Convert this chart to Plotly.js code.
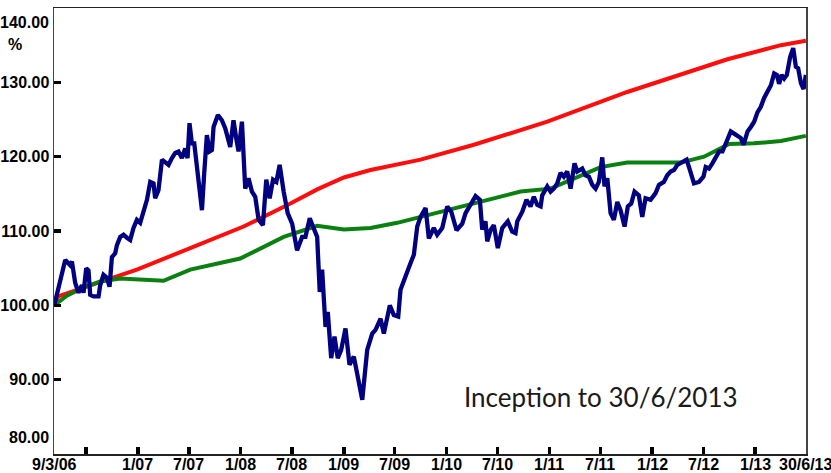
<!DOCTYPE html>
<html>
<head>
<meta charset="utf-8">
<script src="https://cdn.plot.ly/plotly-3.0.1.min.js"></script>
<style>html,body{margin:0;padding:0;background:#fff;}#chart{width:831px;height:473px;}</style>
</head>
<body>
<div id="chart"></div>
<script>
// Fund performance (decimal years)
const fundYears = [2006.186,2006.293,2006.341,2006.358,2006.390,2006.422,2006.455,2006.471,2006.497,2006.519,2006.536,2006.568,2006.617,2006.633,2006.665,2006.698,2006.724,2006.747,2006.779,2006.796,2006.828,2006.860,2006.893,2006.925,2006.957,2006.990,2007.022,2007.054,2007.088,2007.120,2007.152,2007.168,2007.200,2007.234,2007.266,2007.298,2007.331,2007.363,2007.395,2007.428,2007.460,2007.483,2007.502,2007.525,2007.548,2007.580,2007.623,2007.645,2007.671,2007.697,2007.720,2007.736,2007.778,2007.817,2007.850,2007.898,2007.930,2007.954,2007.979,2008.012,2008.044,2008.076,2008.109,2008.141,2008.174,2008.216,2008.248,2008.281,2008.314,2008.346,2008.378,2008.417,2008.456,2008.499,2008.547,2008.596,2008.628,2008.670,2008.709,2008.742,2008.767,2008.790,2008.823,2008.845,2008.878,2008.910,2008.942,2008.975,2009.017,2009.056,2009.098,2009.137,2009.180,2009.228,2009.277,2009.309,2009.358,2009.390,2009.448,2009.487,2009.530,2009.552,2009.584,2009.623,2009.650,2009.682,2009.715,2009.747,2009.796,2009.828,2009.876,2009.909,2009.958,2010.007,2010.046,2010.097,2010.153,2010.185,2010.234,2010.282,2010.324,2010.347,2010.379,2010.396,2010.428,2010.460,2010.499,2010.542,2010.596,2010.639,2010.671,2010.688,2010.737,2010.778,2010.817,2010.849,2010.883,2010.915,2010.931,2010.980,2011.012,2011.044,2011.077,2011.109,2011.141,2011.174,2011.207,2011.245,2011.272,2011.320,2011.352,2011.385,2011.418,2011.450,2011.482,2011.515,2011.537,2011.564,2011.596,2011.628,2011.661,2011.693,2011.732,2011.764,2011.797,2011.829,2011.871,2011.904,2011.936,2011.985,2012.034,2012.066,2012.114,2012.147,2012.180,2012.212,2012.245,2012.293,2012.335,2012.367,2012.406,2012.455,2012.498,2012.520,2012.552,2012.585,2012.617,2012.650,2012.683,2012.724,2012.763,2012.796,2012.829,2012.861,2012.887,2012.926,2012.958,2012.990,2013.023,2013.055,2013.087,2013.121,2013.153,2013.185,2013.211,2013.233,2013.257,2013.282,2013.308,2013.340,2013.370,2013.396,2013.418,2013.445,2013.471,2013.493];
const fundValues = [100.0,106.1,105.4,105.9,103.0,101.7,102.7,101.7,105.0,104.7,101.4,101.2,101.2,102.7,104.1,103.7,102.5,106.5,107.0,108.1,109.2,109.5,109.1,108.8,110.4,111.5,111.1,112.4,114.2,116.6,116.4,114.4,115.5,119.6,119.3,118.9,119.8,120.5,120.7,119.8,121.1,119.8,124.5,121.8,121.8,118.2,112.8,117.8,122.9,120.7,120.9,124.0,125.6,124.9,123.8,121.3,124.9,122.7,120.7,124.7,115.7,117.1,115.3,114.6,111.5,110.8,116.9,114.4,116.9,116.6,118.9,115.3,112.4,111.0,107.4,109.2,109.2,111.7,110.4,109.2,101.8,104.8,97.1,99.1,92.9,95.8,92.9,94.0,96.9,92.0,93.1,90.4,87.3,94.0,96.2,96.7,98.2,96.2,100.0,98.7,98.5,102.1,103.4,104.8,105.7,106.8,110.6,111.9,113.1,109.0,110.4,109.5,110.4,113.3,112.6,110.1,111.0,112.4,113.7,114.7,114.2,110.2,111.3,108.6,110.1,110.8,107.7,110.4,111.3,109.9,109.7,111.3,112.6,114.2,113.3,114.6,113.5,113.3,114.8,116.0,115.3,115.7,116.4,117.8,117.3,118.0,115.7,119.1,118.0,118.4,117.5,117.3,116.2,115.7,116.6,119.9,116.0,117.1,112.4,111.5,113.9,112.8,110.6,113.3,113.7,115.3,114.8,111.9,114.4,114.2,115.1,116.2,116.6,117.5,118.0,118.2,118.9,119.3,119.6,118.2,116.4,116.6,117.3,118.6,118.4,119.1,119.8,120.7,120.7,122.0,123.4,123.1,122.7,122.5,121.6,123.4,124.0,124.7,126.0,126.7,127.9,128.7,129.6,131.2,131.0,129.8,131.0,130.5,131.0,133.4,134.6,132.1,131.9,129.9,129.1,131.0];

// Red benchmark
const redYears  = [2006.186,2006.224,2006.730,2006.990,2007.509,2008.028,2008.482,2008.742,2009.001,2009.260,2009.747,2010.266,2010.980,2011.758,2012.731,2013.250,2013.493];
const redValues = [100.0,101.2,103.6,104.8,107.7,110.6,113.7,115.6,117.2,118.2,119.6,121.6,124.7,128.7,133.1,135.0,135.6];

// Green benchmark
const greenYears  = [2006.186,2006.309,2006.471,2006.633,2006.828,2007.249,2007.509,2007.995,2008.417,2008.742,2009.001,2009.260,2009.520,2009.844,2010.007,2010.720,2011.012,2011.499,2011.758,2012.277,2012.504,2012.747,2012.990,2013.250,2013.493];
const greenValues = [100.0,101.3,102.4,103.2,103.6,103.3,104.8,106.3,109.2,110.7,110.2,110.4,111.1,112.2,112.8,115.3,115.7,118.6,119.2,119.2,120.0,121.7,121.8,122.1,122.8];

// Axis ticks
const xTickDates  = ['2006-03-09','2006-07-01','2007-01-01','2007-07-01','2008-01-01','2008-07-01','2009-01-01','2009-07-01','2010-01-01','2010-07-01','2011-01-01','2011-07-01','2012-01-01','2012-07-01','2013-01-01','2013-06-30'];
const xTickLabels = ['9/3/06','','1/07','7/07','1/08','7/08','1/09','7/09','1/10','7/10','1/11','7/11','1/12','7/12','1/13','30/6/13'];
const yTickVals   = [90,100,110,120,130];
const yTickLabels = ['90.00','100.00','110.00','120.00','130.00'];

function toDate(y){
  const yr = Math.floor(y);
  const a = Date.UTC(yr,0,1), b = Date.UTC(yr+1,0,1);
  return new Date(a + (y-yr)*(b-a)).toISOString().slice(0,19).replace('T',' ');
}

const tickFont = {family:'"Liberation Sans Narrow", "Arial Narrow", "Liberation Sans", Arial, sans-serif', size:16, color:'#000', weight:'bold'};

const traces = [
  {x: redYears.map(toDate), y: redValues, type:'scatter', mode:'lines', line:{color:'#ff0d0d', width:4}, hoverinfo:'skip'},
  {x: greenYears.map(toDate), y: greenValues, type:'scatter', mode:'lines', line:{color:'#0a8010', width:4}, hoverinfo:'skip'},
  {x: fundYears.map(toDate), y: fundValues, type:'scatter', mode:'lines', line:{color:'#000080', width:4.3}, hoverinfo:'skip'}
];

const annotations = [
  {xref:'paper', yref:'paper', x:0, y:1, xshift:-3, yshift:-14, xanchor:'right', yanchor:'middle', text:'140.00', showarrow:false, font:tickFont},
  {xref:'paper', yref:'paper', x:0, y:0, xshift:-3, yshift:17, xanchor:'right', yanchor:'middle', text:'80.00', showarrow:false, font:tickFont},
  {xref:'paper', yref:'paper', x:0, y:1, xshift:-39, yshift:-36, xanchor:'center', yanchor:'middle', text:'%', showarrow:false, font:tickFont},
  {xref:'paper', yref:'paper', x:0.727, y:0, yshift:57, xanchor:'center', yanchor:'middle', text:'Inception to 30/6/2013', showarrow:false, font:{family:'Lato, "Open Sans", sans-serif', size:26, color:'#1a1a1a'}}
];
xTickDates.forEach((d,i) => {
  if (xTickLabels[i]) {
    annotations.push({xref:'x', yref:'paper', x:d, y:0, yshift:-10, xanchor:'center', yanchor:'middle', text:xTickLabels[i], showarrow:false, font:tickFont, cliponaxis:false});
  }
});

const layout = {
  width:831, height:473,
  margin:{l:54, r:25, t:8, b:19},
  paper_bgcolor:'#fff', plot_bgcolor:'#fff',
  showlegend:false,
  xaxis:{
    type:'date', range:['2006-03-09','2013-06-30 12:00'],
    tickmode:'array', tickvals:xTickDates.slice(1,-1), ticktext:xTickDates.slice(1,-1).map(()=>''),
    ticks:'inside', ticklen:7, tickwidth:3.5, tickcolor:'#000',
    showgrid:false, zeroline:false,
    showline:true, mirror:true, linecolor:'#222', linewidth:1.5,
    tickfont:tickFont, fixedrange:true
  },
  yaxis:{
    range:[80,140],
    tickmode:'array', tickvals:yTickVals, ticktext:yTickLabels,
    ticks:'inside', ticklen:7, tickwidth:3.5, tickcolor:'#000',
    showgrid:false, zeroline:false,
    showline:true, mirror:true, linecolor:'#444', linewidth:1.5,
    tickfont:tickFont, fixedrange:true
  },
  annotations: annotations
};

Plotly.newPlot('chart', traces, layout, {staticPlot:true, displayModeBar:false});
</script>
</body>
</html>
